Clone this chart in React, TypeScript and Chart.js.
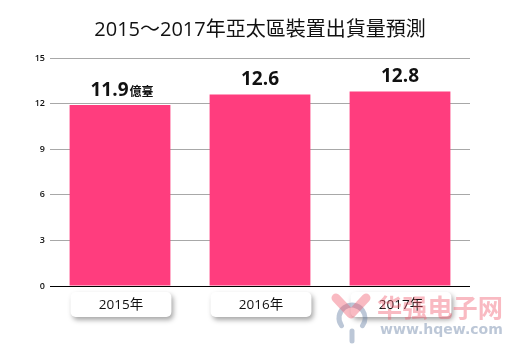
import React, { useEffect, useRef } from "react";
import { Chart, registerables } from "chart.js";

Chart.register(...registerables);

const TITLE = "2015～2017年亞太區裝置出貨量預測";
const CATEGORIES = ["2015年", "2016年", "2017年"];
const VALUES = [11.9, 12.6, 12.8];
const VALUE_LABELS = ["11.9", "12.6", "12.8"];
const UNIT_SUFFIX = ["億臺", "", ""];
const Y_TICKS = [0, 3, 6, 9, 12, 15];
const WATERMARK_CN = "华强电子网";
const WATERMARK_URL = "www.hqew.com";

const BAR_COLOR = "#FF3D7E";
const FONT = "'Open Sans', 'Noto Sans CJK TC', sans-serif";

function fitText(ctx: any, text: string, x: number, y: number, width: number, weight: string, family: string, baseSize: number) {
  ctx.font = `${weight} ${baseSize}px ${family}`;
  const w = ctx.measureText(text).width;
  const size = (baseSize * width) / w;
  ctx.font = `${weight} ${size}px ${family}`;
  ctx.fillText(text, x, y);
}

const overlayPlugin = {
  id: "overlay",
  afterDatasetsDraw(chart: any) {
    const { ctx, chartArea } = chart;
    const meta = chart.getDatasetMeta(0);
    ctx.save();
    // zero line
    ctx.strokeStyle = "#000";
    ctx.lineWidth = 1.2;
    ctx.beginPath();
    ctx.moveTo(chartArea.left, Math.round(chartArea.bottom) + 0.5);
    ctx.lineTo(chartArea.right, Math.round(chartArea.bottom) + 0.5);
    ctx.stroke();

    // title
    ctx.fillStyle = "#111";
    ctx.font = `400 20px ${FONT}`;
    ctx.textAlign = "center";
    ctx.textBaseline = "middle";
    ctx.fillText(TITLE, (chartArea.left + chartArea.right) / 2, 30);

    meta.data.forEach((bar: any, i: number) => {
      const half = bar.width / 2;
      const left = bar.x - half;
      const w = bar.width;
      // value label
      ctx.fillStyle = "#111";
      ctx.textBaseline = "alphabetic";
      const big = `700 19px ${FONT}`;
      const small = `700 12px ${FONT}`;
      ctx.font = big;
      const wBig = ctx.measureText(VALUE_LABELS[i]).width;
      ctx.font = small;
      const wSmall = UNIT_SUFFIX[i] ? ctx.measureText(UNIT_SUFFIX[i]).width + 1 : 0;
      const startX = bar.x - (wBig + wSmall) / 2 + (UNIT_SUFFIX[i] ? 2 : 0);
      const baseY = bar.y - 9;
      ctx.textAlign = "left";
      ctx.font = big;
      ctx.fillText(VALUE_LABELS[i], startX, baseY);
      if (UNIT_SUFFIX[i]) {
        ctx.font = small;
        ctx.fillText(UNIT_SUFFIX[i], startX + wBig + 1, baseY);
      }

      // category box
      const top = chartArea.bottom + 6;
      const h = 25;
      ctx.save();
      ctx.shadowColor = "rgba(0,0,0,0.35)";
      ctx.shadowBlur = 5;
      ctx.shadowOffsetX = 2;
      ctx.shadowOffsetY = 3;
      ctx.fillStyle = "#fff";
      ctx.beginPath();
      (ctx as any).roundRect(left + 1, top, w, h, 5);
      ctx.fill();
      ctx.restore();
      ctx.fillStyle = "#111";
      ctx.font = `400 13.5px ${FONT}`;
      ctx.textAlign = "center";
      ctx.textBaseline = "middle";
      ctx.fillText(CATEGORIES[i], bar.x + 1, top + h / 2 + 1);
    });

    // watermark
    ctx.globalAlpha = 0.42;
    ctx.lineCap = "round";
    ctx.lineJoin = "round";
    // gray ring + stem
    ctx.strokeStyle = "#5F7AA0";
    ctx.lineWidth = 5;
    ctx.beginPath();
    ctx.arc(352, 318, 13, Math.PI * 0.8, Math.PI * 2.2);
    ctx.stroke();
    ctx.beginPath();
    ctx.moveTo(352, 331);
    ctx.lineTo(352, 341);
    ctx.stroke();
    // pink V
    ctx.strokeStyle = "#F05A6E";
    ctx.lineWidth = 9;
    ctx.beginPath();
    ctx.moveTo(336, 298);
    ctx.lineTo(351, 314);
    ctx.lineTo(366, 298);
    ctx.stroke();
    ctx.fillStyle = "#F05A6E";
    ctx.textAlign = "left";
    ctx.textBaseline = "middle";
    fitText(ctx, WATERMARK_CN, 377, 307, 126, "700", "'Noto Sans CJK SC', sans-serif", 24);
    ctx.fillStyle = "#5F7AA0";
    fitText(ctx, WATERMARK_URL, 380, 330, 123, "700", "'DejaVu Sans', sans-serif", 12);
    ctx.restore();
  },
};

export default function App() {
  const ref = useRef<HTMLCanvasElement | null>(null);
  useEffect(() => {
    if (!ref.current) return;
    const chart = new Chart(ref.current, {
      type: "bar",
      data: {
        labels: CATEGORIES,
        datasets: [
          {
            data: VALUES,
            backgroundColor: BAR_COLOR,
            categoryPercentage: 0.9,
            barPercentage: 0.8,
          },
        ],
      },
      options: {
        responsive: false,
        animation: false,
        layout: { padding: { top: 58, right: 38, bottom: 59, left: 0 } },
        plugins: { legend: { display: false }, tooltip: { enabled: false }, title: { display: false } },
        scales: {
          x: {
            grid: { display: false },
            border: { display: false },
            ticks: { display: false },
            afterFit: (s: any) => {
              s.height = 0;
            },
          },
          y: {
            min: 0,
            max: 15,
            afterBuildTicks: (s: any) => {
              s.ticks = Y_TICKS.map((v) => ({ value: v }));
            },
            afterFit: (s: any) => {
              s.width = 50;
            },
            grid: { color: "#a8a8a8", lineWidth: 1, drawTicks: false },
            border: { display: false },
            ticks: {
              padding: 5,
              color: "#111",
              font: { family: FONT, size: 9, weight: 600 },
            },
          },
        },
      },
      plugins: [overlayPlugin],
    });
    return () => chart.destroy();
  }, []);
  return (
    <div style={{ position: "fixed", left: 0, top: 0, width: 508, height: 345, background: "#fff" }}>
      <canvas ref={ref} width={508} height={345} style={{ width: 508, height: 345, display: "block" }} />
    </div>
  );
}
